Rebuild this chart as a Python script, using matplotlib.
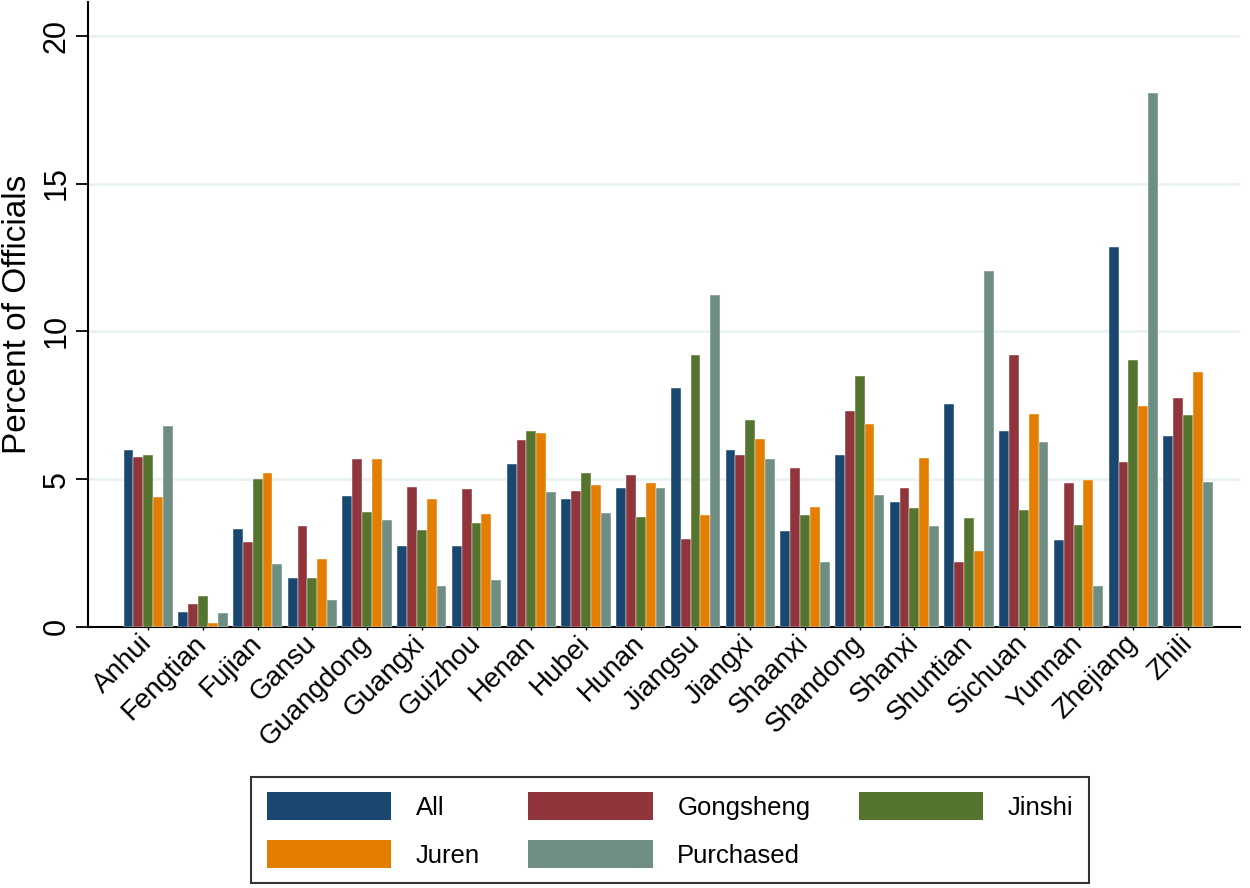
import numpy as np
import matplotlib.pyplot as plt
from matplotlib.patches import Patch

plt.rcParams['font.family'] = ['Liberation Sans', 'DejaVu Sans']

# провинции
provinces = ['Anhui', 'Fengtian', 'Fujian', 'Gansu', 'Guangdong', 'Guangxi', 'Guizhou',
             'Henan', 'Hubei', 'Hunan', 'Jiangsu', 'Jiangxi', 'Shaanxi', 'Shandong',
             'Shanxi', 'Shuntian', 'Sichuan', 'Yunnan', 'Zhejiang', 'Zhili']

# доли чиновников по категориям
all_off = [5.97, 0.49, 3.30, 1.67, 4.44, 2.75, 2.75, 5.51, 4.34, 4.70,
           8.08, 5.99, 3.23, 5.83, 4.24, 7.53, 6.64, 2.93, 12.87, 6.45]
gongsheng = [5.74, 0.76, 2.87, 3.42, 5.67, 4.73, 4.67, 6.33, 4.60, 5.14,
             2.97, 5.81, 5.36, 7.30, 4.69, 2.18, 9.19, 4.88, 5.59, 7.73]
jinshi = [5.83, 1.05, 5.02, 1.64, 3.88, 3.27, 3.51, 6.64, 5.21, 3.72,
          9.20, 7.01, 3.79, 8.50, 4.01, 3.68, 3.97, 3.45, 9.02, 7.17]
juren = [4.41, 0.14, 5.21, 2.31, 5.67, 4.33, 3.82, 6.55, 4.79, 4.86,
         3.77, 6.35, 4.05, 6.85, 5.73, 2.56, 7.20, 4.98, 7.48, 8.63]
purchased = [6.81, 0.46, 2.12, 0.92, 3.62, 1.38, 1.60, 4.55, 3.85, 4.69,
             11.24, 5.67, 2.21, 4.46, 3.42, 12.03, 6.25, 1.38, 18.05, 4.91]

series = [all_off, gongsheng, jinshi, juren, purchased]
names = ['All', 'Gongsheng', 'Jinshi', 'Juren', 'Purchased']
colors = ['#1a476f', '#90353b', '#55752f', '#e37e00', '#6e8e84']

fig = plt.figure(figsize=(12.5, 8.88), dpi=100)
ax = fig.add_axes([0.0704, 0.294, 0.9216, 0.704])

x = np.arange(len(provinces))
w = 0.18
for k, (vals, c) in enumerate(zip(series, colors)):
    ax.bar(x + (k - 2) * w, vals, width=w, color=c, edgecolor='#ffffff', linewidth=0.3, zorder=3)

ax.set_xlim(-1.1, 19.95)
ax.set_ylim(0, 21.15)
ax.set_yticks([0, 5, 10, 15, 20])
ax.set_yticklabels(['0', '5', '10', '15', '20'], rotation=90, va='center', fontsize=22)
ax.grid(axis='y', color='#eaf2f3', linewidth=2, zorder=0)
ax.tick_params(axis='y', length=8.6, width=1.3, pad=3)

ax.set_xticks(x)
ax.set_xticklabels(provinces, rotation=45, ha='right', va='center',
                   rotation_mode='anchor', fontsize=20)
ax.tick_params(axis='x', length=2, width=1, pad=7)

ax.set_ylabel('Percent of Officials', fontsize=24, va='center')
ax.yaxis.set_label_coords(-0.0616, 0.5)

for s in ['top', 'right']:
    ax.spines[s].set_visible(False)
for s in ['left', 'bottom']:
    ax.spines[s].set_linewidth(1.5)

# порядок для построчного заполнения легенды (3 колонки)
order = [0, 3, 1, 4, 2]
handles = [Patch(facecolor=colors[i], edgecolor='none') for i in order]
labels = [names[i] for i in order]
leg = fig.legend(handles, labels, ncol=3, loc='center', bbox_to_anchor=(0.536, 0.0653),
                 fontsize=18.5, frameon=True, fancybox=False, edgecolor='black',
                 handlelength=4.86, handleheight=1.28, handletextpad=0.95,
                 columnspacing=1.87, labelspacing=0.8, borderpad=0.6)
leg.get_frame().set_linewidth(1.5)

fig.savefig('out.png', dpi=100, facecolor='white')
